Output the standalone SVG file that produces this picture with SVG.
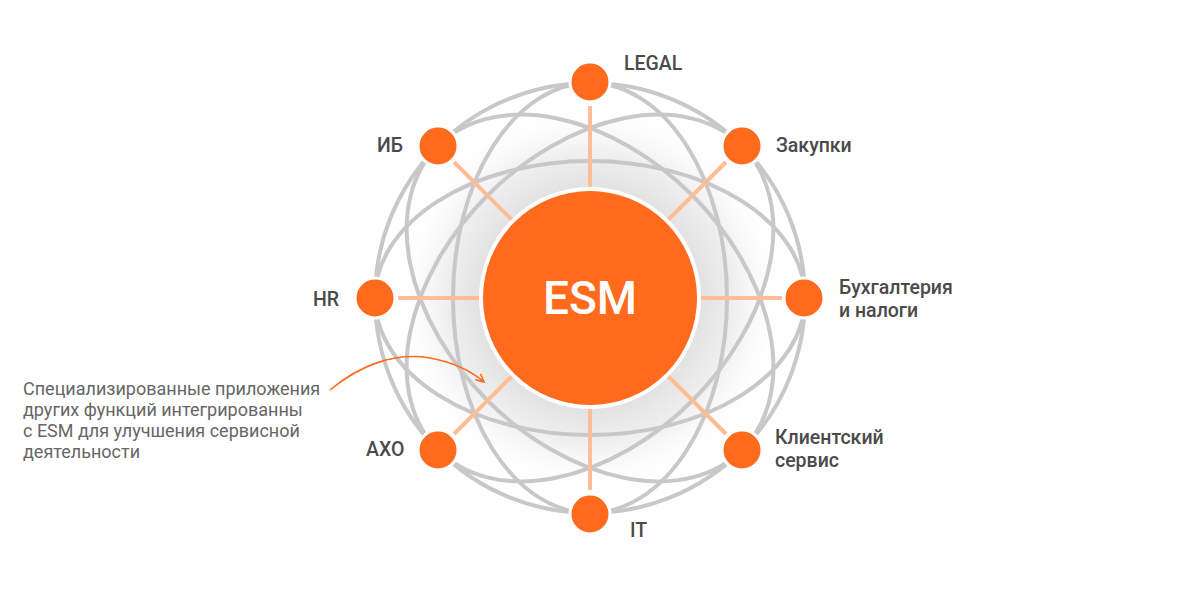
<svg xmlns="http://www.w3.org/2000/svg" width="1180" height="596" viewBox="0 0 1180 596">
<style>
.arc{fill:none;stroke:#c8c8c8;stroke-width:4}
.spoke{stroke:#ffbd96;stroke-width:4;stroke-linecap:butt}
.node{fill:#ff6a1c;stroke:#fff;stroke-width:3}
.lbl{font-family:Roboto,"Liberation Sans",sans-serif;font-weight:500;font-size:19.5px;fill:#4a4a4a}
.note{font-family:Roboto,"Liberation Sans",sans-serif;font-size:18px;fill:#666}
</style>
<defs>
<radialGradient id="shade" cx="590" cy="298" r="200" gradientUnits="userSpaceOnUse">
<stop offset="0.5" stop-color="#dedede"/>
<stop offset="0.72" stop-color="#efefef"/>
<stop offset="1" stop-color="#ffffff" stop-opacity="0"/>
</radialGradient>
<marker id="chev" viewBox="0 0 10 10" refX="9" refY="5" markerWidth="10" markerHeight="10" markerUnits="userSpaceOnUse" orient="auto">
<path d="M1,1 L9,5 L1,9" fill="none" stroke="#ff6a1c" stroke-width="1.6"/>
</marker>
</defs>
<rect width="1180" height="596" fill="#fff"/>
<circle cx="590" cy="298" r="200" fill="url(#shade)"/>
<g id="connectors">
<circle class="arc" cx="590" cy="298" r="215"/>
<ellipse class="arc" cx="590" cy="298" rx="215" ry="137"/>
<ellipse class="arc" cx="590" cy="298" rx="137" ry="215"/>
<ellipse class="arc" cx="590" cy="298" rx="215" ry="145" transform="rotate(45 590 298)"/>
<ellipse class="arc" cx="590" cy="298" rx="215" ry="145" transform="rotate(-45 590 298)"/>
<line class="spoke" x1="590" y1="106" x2="590" y2="188"/>
<line class="spoke" x1="590" y1="490" x2="590" y2="408"/>
<line class="spoke" x1="398" y1="298" x2="480" y2="298"/>
<line class="spoke" x1="782" y1="298" x2="700" y2="298"/>
<line class="spoke" x1="454" y1="162" x2="512" y2="220"/>
<line class="spoke" x1="726" y1="162" x2="668" y2="220"/>
<line class="spoke" x1="454" y1="434" x2="512" y2="376"/>
<line class="spoke" x1="726" y1="434" x2="668" y2="376"/>
<path d="M330,390 C360,365 395,352 430,358 C452,362 470,370 484,382" fill="none" stroke="#ff6a1c" stroke-width="1.6" marker-end="url(#chev)"/>
</g>
<g id="esm">
<circle cx="590" cy="298" r="109" fill="#ff6a1c" stroke="#fff" stroke-width="4"/>
<text x="590" y="314" text-anchor="middle" font-family="Roboto,'Liberation Sans',sans-serif" font-weight="500" font-size="46" fill="#fff">ESM</text>
</g>
<g id="legal"><circle class="node" cx="590" cy="82" r="20"/><text class="lbl" x="624" y="70">LEGAL</text></g>
<g id="zakupki"><circle class="node" cx="742" cy="146" r="20"/><text class="lbl" x="776" y="152">Закупки</text></g>
<g id="buh"><circle class="node" cx="804" cy="298" r="20"/><text class="lbl" x="839" y="294">Бухгалтерия</text><text class="lbl" x="839" y="317">и налоги</text></g>
<g id="client"><circle class="node" cx="742" cy="450" r="20"/><text class="lbl" x="775" y="444">Клиентский</text><text class="lbl" x="775" y="467">сервис</text></g>
<g id="it"><circle class="node" cx="590" cy="514" r="20"/><text class="lbl" x="630" y="537">IT</text></g>
<g id="aho"><circle class="node" cx="438" cy="450" r="20"/><text class="lbl" x="366" y="456">АХО</text></g>
<g id="hr"><circle class="node" cx="375" cy="298" r="20"/><text class="lbl" x="313" y="306">HR</text></g>
<g id="ib"><circle class="node" cx="438" cy="146" r="20"/><text class="lbl" x="377" y="152">ИБ</text></g>
<g id="note">
<text class="note" x="23" y="395">Специализированные приложения</text>
<text class="note" x="23" y="416">других функций интегрированны</text>
<text class="note" x="23" y="437">с ESM для улучшения сервисной</text>
<text class="note" x="23" y="458">деятельности</text>
</g>
</svg>
